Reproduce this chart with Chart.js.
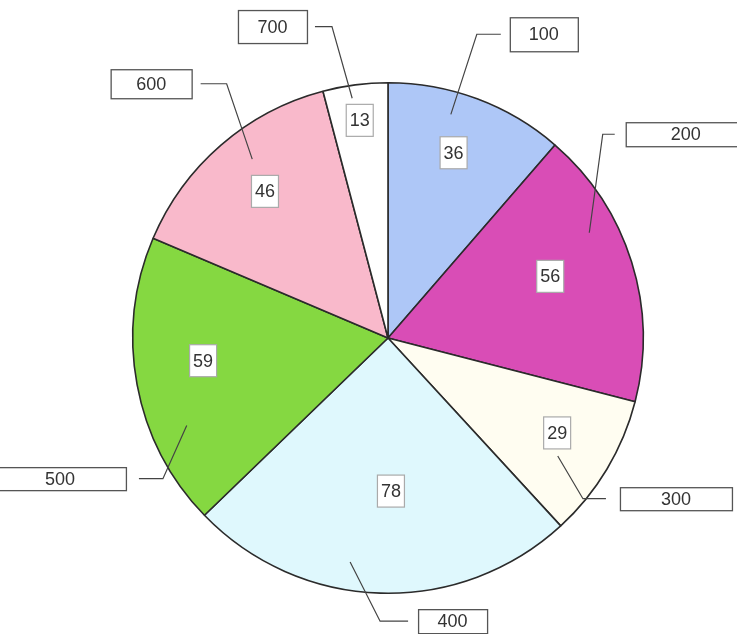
<!DOCTYPE html>
<html>
<head>
<meta charset="utf-8">
<script src="https://cdn.jsdelivr.net/npm/chart.js@4"></script>
<style>
    html, body { margin: 0; padding: 0; background: #fff; }
    #wrap { width: 737px; height: 634px; }
</style>
</head>
<body>
<div id="wrap"><canvas id="pie" width="737" height="634"></canvas></div>
<script>
// Slices, clockwise from 12 o'clock
const categories = ['100', '200', '300', '400', '500', '600', '700'];
const values = [36, 56, 29, 78, 59, 46, 13];
const sliceColors = ['#aec7f7', '#d94db6', '#fffdf1', '#dff8fd', '#85d841', '#f9b9cb', '#ffffff'];

// Callout layout (angles in degrees clockwise from top, radii as a share of the pie radius)
const valueLabelPos = [[19.5, 0.77], [69.2, 0.68], [119.3, 0.76], [178.9, 0.60], [263, 0.73], [320, 0.75], [352.6, 0.86]];
const leaderStart = [[15.7, 0.91], [62.4, 0.89], [124.8, 0.81], [189.6, 0.89], [246.5, 0.86], [322.8, 0.88], [351.5, 0.95]];
const leaderKnee = [[16.3, 1.24], [46.5, 1.16], [129.5, 0.99], [181.6, 1.11], [238, 1.04], [327.6, 1.18], [349.8, 1.24]];
const leaderSide = [1, 1, 1, 1, -1, -1, -1];
const leaderTail = [24, 12, 23, 28, 24, 26, 17];
const boxGap = [9, 11, 14, 10, 13, 9, 8];
const boxSize = [[68, 34], [120, 24], [112, 23], [69, 24], [132, 23], [81, 29], [69, 33]];

const FONT = '18px "Liberation Sans", Arial, sans-serif';

function polar(cx, cy, deg, r) {
    const a = deg * Math.PI / 180 - Math.PI / 2;
    return [cx + Math.cos(a) * r, cy + Math.sin(a) * r];
}

const calloutPlugin = {
    id: 'callouts',
    afterDatasetsDraw(chart) {
        const ctx = chart.ctx;
        const arcs = chart.getDatasetMeta(0).data;
        ctx.save();
        ctx.font = FONT;
        ctx.textAlign = 'center';
        ctx.textBaseline = 'middle';

        arcs.forEach((arc, i) => {
            const { x, y, outerRadius } = arc.getProps(['x', 'y', 'outerRadius'], true);
            const R = outerRadius;

            // leader line: slice -> knee -> horizontal tail
            const p0 = polar(x, y, leaderStart[i][0], leaderStart[i][1] * R);
            const p1 = polar(x, y, leaderKnee[i][0], leaderKnee[i][1] * R);
            const tailX = p1[0] + leaderSide[i] * leaderTail[i];
            ctx.strokeStyle = '#444';
            ctx.lineWidth = 1.2;
            ctx.beginPath();
            ctx.moveTo(p0[0], p0[1]);
            ctx.lineTo(p1[0], p1[1]);
            ctx.lineTo(tailX, p1[1]);
            ctx.stroke();

            // category box
            const [bw, bh] = boxSize[i];
            const bx = leaderSide[i] > 0 ? tailX + boxGap[i] : tailX - boxGap[i] - bw;
            const by = p1[1] - bh / 2;
            ctx.fillStyle = '#fff';
            ctx.fillRect(bx, by, bw, bh);
            ctx.strokeStyle = '#555';
            ctx.lineWidth = 1.3;
            ctx.strokeRect(bx + 0.5, by + 0.5, bw, bh);
            ctx.fillStyle = '#333';
            ctx.fillText(categories[i], bx + bw / 2, by + bh / 2 + 1);

            // value box inside the slice
            const [vx, vy] = polar(x, y, valueLabelPos[i][0], valueLabelPos[i][1] * R);
            const w = 27, h = 32;
            ctx.fillStyle = '#fff';
            ctx.fillRect(vx - w / 2, vy - h / 2, w, h);
            ctx.strokeStyle = '#aaa';
            ctx.lineWidth = 1.2;
            ctx.strokeRect(vx - w / 2, vy - h / 2, w, h);
            ctx.fillStyle = '#333';
            ctx.fillText(String(values[i]), vx, vy + 1);
        });
        ctx.restore();
    }
};

new Chart(document.getElementById('pie'), {
    type: 'pie',
    data: {
        labels: categories,
        datasets: [{
            data: values,
            backgroundColor: sliceColors,
            borderColor: '#2b2b2b',
            borderWidth: 1.6
        }]
    },
    options: {
        responsive: false,
        animation: false,
        devicePixelRatio: 1,
        layout: { padding: { left: 132, right: 93, top: 82, bottom: 40 } },
        plugins: {
            legend: { display: false },
            tooltip: { enabled: false }
        }
    },
    plugins: [calloutPlugin]
});
</script>
</body>
</html>
